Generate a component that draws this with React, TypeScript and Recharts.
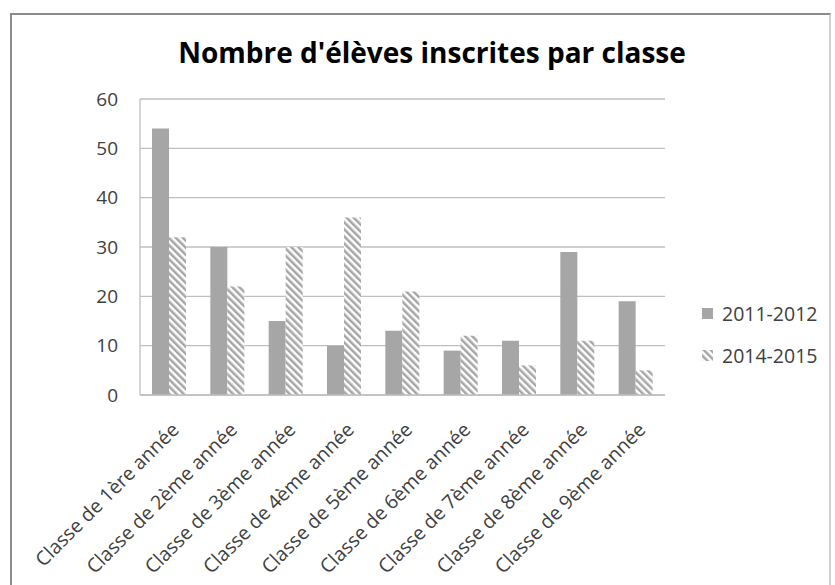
import React from "react";
import { BarChart, Bar, XAxis, YAxis, CartesianGrid } from "recharts";

// Values
const classes = [
  "Classe de 1ère année",
  "Classe de 2ème année",
  "Classe de 3ème année",
  "Classe de 4ème année",
  "Classe de 5ème année",
  "Classe de 6ème année",
  "Classe de 7ème année",
  "Classe de 8ème année",
  "Classe de 9ème année",
];
const eleves2011 = [54, 30, 15, 10, 13, 9, 11, 29, 19];
const eleves2014 = [32, 22, 30, 36, 21, 12, 6, 11, 5];
const yTicks = [0, 10, 20, 30, 40, 50, 60];
const seriesNames = ["2011-2012", "2014-2015"];

const data = classes.map((name, i) => ({
  name,
  a: eleves2011[i],
  b: eleves2014[i],
}));

const FONT = "'Open Sans', sans-serif";
const GREY = "#a6a6a6";

type TickProps = { x?: number; y?: number; payload?: { value: string } };

const SlantTick = ({ x = 0, y = 0, payload }: TickProps) => (
  <text
    x={x + 11}
    y={y + 28}
    transform={`rotate(-45, ${x + 11}, ${y + 28})`}
    textAnchor="end"
    fontSize={19.5}
    fontFamily={FONT}
    fill="#404040"
  >
    {payload?.value}
  </text>
);

export default function App() {
  return (
    <div style={{ position: "absolute", left: 0, top: 0, width: 835, height: 585, background: "#fff", overflow: "hidden" }}>
      {/* chart frame */}
      <div
        style={{
          position: "absolute",
          left: 10,
          top: 13,
          width: 821,
          height: 600,
          borderLeft: "2px solid #8c8c8c",
          borderTop: "2px solid #8c8c8c",
          borderRight: "2px solid #d0d0d0",
          boxSizing: "border-box",
        }}
      />
      <div
        style={{
          position: "absolute",
          left: 0,
          top: 33,
          width: 864,
          textAlign: "center",
          fontFamily: FONT,
          fontWeight: 700,
          fontSize: 28,
          color: "#000",
          whiteSpace: "nowrap",
        }}
      >
        Nombre d'élèves inscrites par classe
      </div>
      <BarChart
        width={835}
        height={585}
        data={data}
        margin={{ top: 99, right: 170, bottom: 0, left: 90 }}
        barGap={0}
        barSize={17}
        style={{ position: "absolute", left: 0, top: 0 }}
      >
        <defs>
          <pattern id="hatch" width={5} height={5} patternUnits="userSpaceOnUse" patternTransform="rotate(-45)">
            <rect width={5} height={5} fill="#ffffff" />
            <rect width={2.5} height={5} fill={GREY} />
          </pattern>
        </defs>
        <CartesianGrid vertical={false} stroke="#bfbfbf" strokeWidth={1.3} />
        <XAxis
          dataKey="name"
          interval={0}
          height={190}
          tickLine={false}
          axisLine={{ stroke: "#bfbfbf", strokeWidth: 1.3 }}
          tick={<SlantTick />}
        />
        <YAxis
          width={50}
          domain={[0, 60]}
          ticks={yTicks}
          tickLine={false}
          tickMargin={16}
          axisLine={{ stroke: "#bfbfbf", strokeWidth: 1.3 }}
          tick={{ fontSize: 19, fontFamily: FONT, fill: "#404040" }}
        />
        <Bar dataKey="a" name={seriesNames[0]} fill={GREY} isAnimationActive={false} />
        <Bar dataKey="b" name={seriesNames[1]} fill="url(#hatch)" isAnimationActive={false} />
      </BarChart>
      {/* legend */}
      <div style={{ position: "absolute", left: 702, top: 298, fontFamily: FONT, fontSize: 19.5, color: "#404040" }}>
        {seriesNames.map((s, i) => (
          <div key={s} style={{ display: "flex", alignItems: "center", height: 30, marginBottom: 12 }}>
            <svg width={11} height={11} style={{ marginRight: 9 }}>
              <rect width={11} height={11} fill={i === 0 ? GREY : "url(#hatch)"} />
            </svg>
            {s}
          </div>
        ))}
      </div>
    </div>
  );
}
